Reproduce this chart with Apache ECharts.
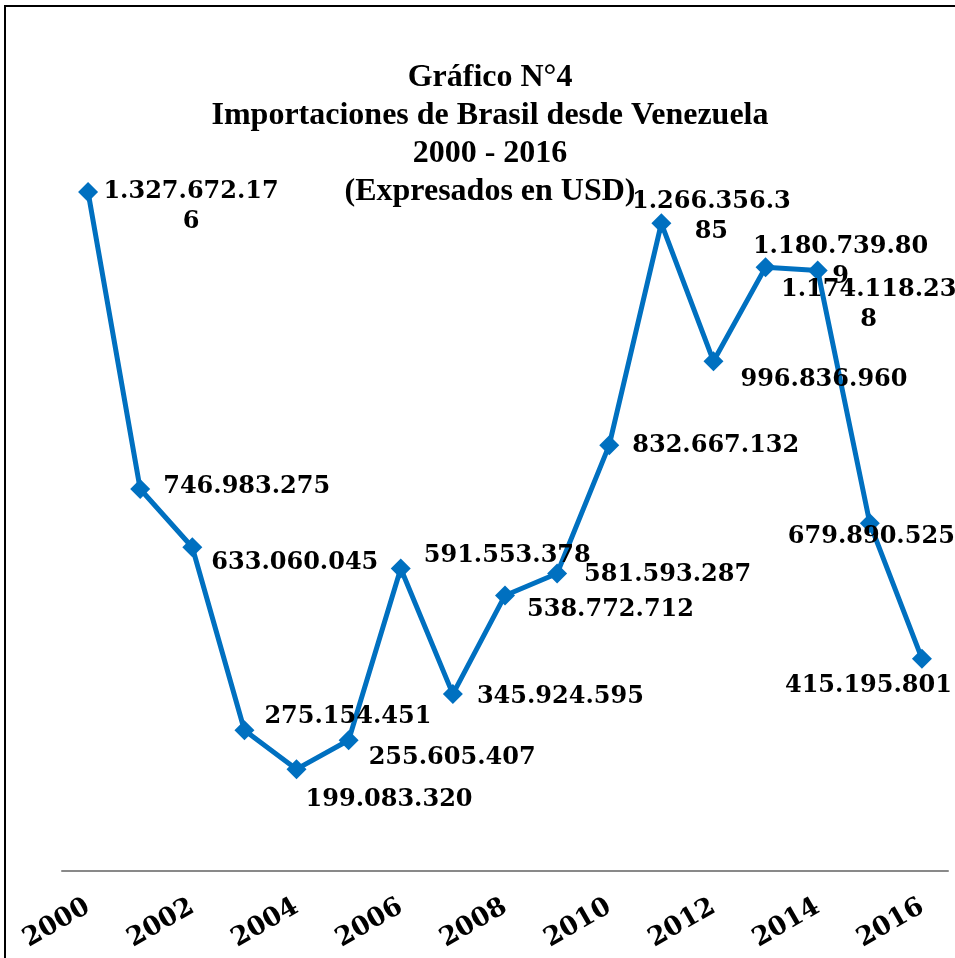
<!DOCTYPE html>
<html>
<head>
<meta charset="utf-8">
<script src="https://cdn.jsdelivr.net/npm/echarts@6/dist/echarts.min.js"></script>
<style>
  html, body { margin: 0; padding: 0; background: #fff; }
  #main { width: 955px; height: 958px; }
</style>
</head>
<body>
<div id="main"></div>
<script>
// datos del gráfico
var years = ["2000", "2001", "2002", "2003", "2004", "2005", "2006", "2007", "2008",
  "2009", "2010", "2011", "2012", "2013", "2014", "2015", "2016"];
var imports = [1327672176, 746983275, 633060045, 275154451, 199083320, 255605407,
  591553378, 345924595, 538772712, 581593287, 832667132, 1266356385, 996836960,
  1180739809, 1174118238, 679890525, 415195801];

// posición de cada etiqueta: [dx, dy, alineación, caracteres por línea]
var labelPos = [
  [103, 15, "center", 12], [23, -2, "left", 0], [19, 16, "left", 0], [20, -14, "left", 0],
  [9, 31, "left", 0], [20, 17, "left", 0], [23, -13, "left", 0], [24, 3, "left", 0],
  [22, 14, "left", 0], [27, 1, "left", 0], [23, 1, "left", 0], [50, -7, "center", 11],
  [27, 19, "left", 0], [75, -5, "center", 12], [51, 34, "center", 12], [-82, 13, "left", 0],
  [-137, 27, "left", 0]
];

function fmt(v) {
  return String(v).replace(/\B(?=(\d{3})+(?!\d))/g, ".");
}

var seriesData = imports.map(function (v, i) {
  var p = labelPos[i];
  return {
    value: v,
    label: { offset: [p[0], p[1]], align: p[2] }
  };
});

var myChart = echarts.init(document.getElementById("main"));
myChart.setOption({
  animation: false,
  title: {
    text: "Gráfico N°4\nImportaciones de Brasil desde Venezuela\n2000 - 2016\n(Expresados en USD)",
    left: 485,
    top: 54,
    textAlign: "center",
    textStyle: {
      fontFamily: "Liberation Serif",
      fontWeight: "bold",
      fontSize: 32,
      lineHeight: 38,
      color: "#000"
    }
  },
  graphic: [{
    type: "rect",
    shape: { x: 5, y: 6, width: 1000, height: 1000 },
    style: { fill: "none", stroke: "#000", lineWidth: 2 },
    silent: true
  }],
  grid: { left: 62, right: 7, top: 155, bottom: 87 },
  xAxis: {
    type: "category",
    data: years,
    boundaryGap: true,
    axisLine: { lineStyle: { color: "#898989", width: 2 } },
    axisTick: { show: false },
    axisLabel: {
      interval: 1,
      rotate: 30,
      margin: 34,
      fontFamily: "DejaVu Serif",
      fontWeight: "bold",
      fontSize: 26,
      color: "#000"
    }
  },
  yAxis: {
    type: "value",
    min: 0,
    max: 1400000000,
    show: false
  },
  series: [{
    type: "line",
    data: seriesData,
    symbol: "diamond",
    symbolSize: 20,
    lineStyle: { color: "#0070C0", width: 5 },
    itemStyle: { color: "#0070C0" },
    label: {
      show: true,
      position: "inside",
      verticalAlign: "middle",
      fontFamily: "DejaVu Serif",
      fontWeight: "bold",
      fontSize: 24,
      lineHeight: 30,
      color: "#000",
      formatter: function (p) {
        var s = fmt(p.value);
        var n = labelPos[p.dataIndex][3];
        if (n && s.length > n) {
          s = s.slice(0, n) + "\n" + s.slice(n);
        }
        return s;
      }
    }
  }]
});
</script>
</body>
</html>
